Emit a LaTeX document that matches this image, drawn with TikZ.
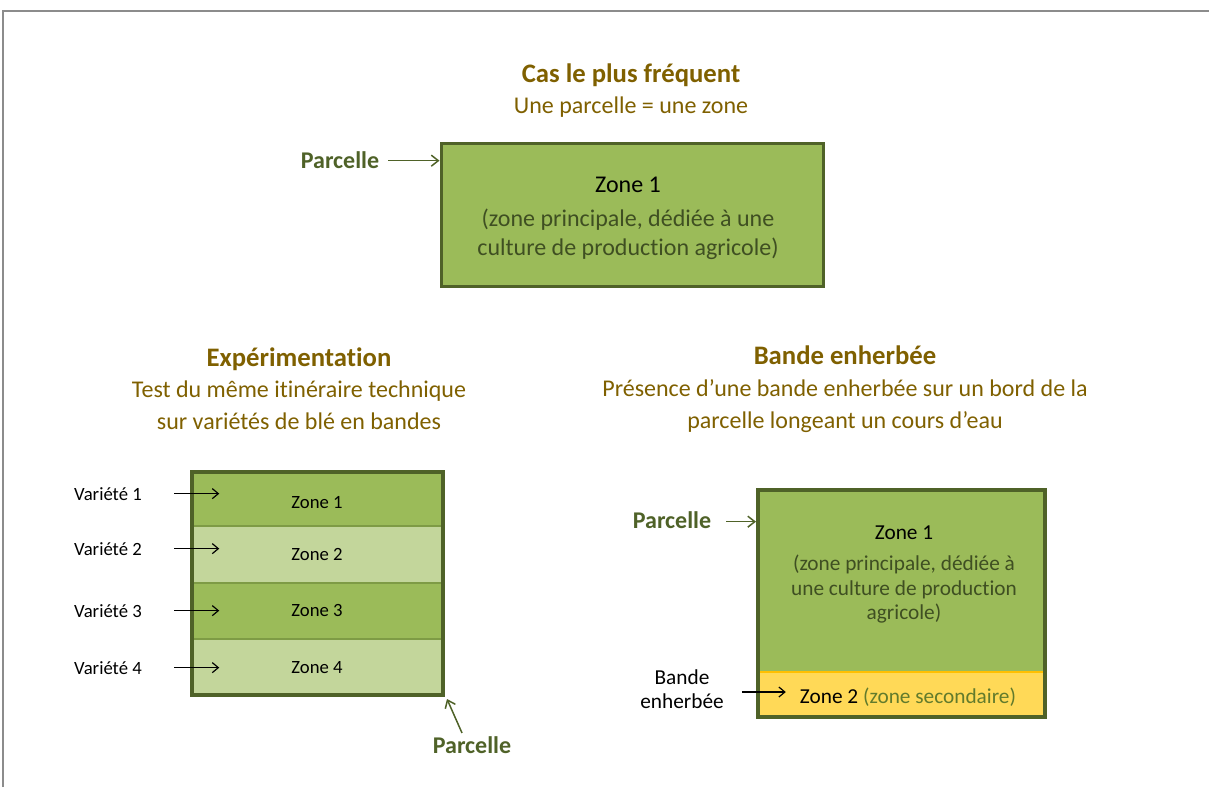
\documentclass[tikz,border=0pt]{standalone}
\usepackage{fontspec}
\setmainfont{Carlito}[Ligatures={NoCommon,NoContextual,NoRare},Contextuals={NoAlternate}]
\usetikzlibrary{arrows.meta,calc}
\newcommand\noligti{t\kern0pt i}
\definecolor{titlebrown}{HTML}{7F6000}
\definecolor{labgreen}{HTML}{4F6228}
\definecolor{fillgreen}{HTML}{9BBB59}
\definecolor{lightgreen}{HTML}{C3D69B}
\definecolor{sepgreen}{HTML}{7E9B45}
\definecolor{olivetext}{HTML}{3F4F22}
\definecolor{secgreen}{HTML}{627B2C}
\definecolor{yellowband}{HTML}{FFD957}
\definecolor{orangeline}{HTML}{FFC000}
\definecolor{framegray}{HTML}{8C8C8C}
\tikzset{
  title/.style={anchor=base,inner sep=0pt,text=titlebrown,font=\fontsize{26.7}{32}\selectfont\bfseries},
  subtitle/.style={anchor=base,inner sep=0pt,text=titlebrown,font=\fontsize{24}{29}\selectfont},
  plabel/.style={anchor=base,inner sep=0pt,text=labgreen,font=\fontsize{24}{29}\selectfont\bfseries},
  small/.style={anchor=base,inner sep=0pt,text=black,font=\fontsize{18.7}{22}\selectfont},
  mid/.style={anchor=base,inner sep=0pt,font=\fontsize{21.3}{25}\selectfont},
  big/.style={anchor=base,inner sep=0pt,font=\fontsize{24}{29}\selectfont},
  band/.style={draw=sepgreen,line width=1.5pt,minimum width=251pt,inner sep=0pt},
  bandtext/.style={anchor=base,inner sep=0pt,text=black,font=\fontsize{18.7}{22}\selectfont},
  garrow/.style={draw=labgreen,line width=1.5pt,-{Straight Barb[length=7pt,width=11pt,line width=1.5pt]}},
  barrow/.style={draw=black,line width=1.2pt,-{Straight Barb[length=6pt,width=10pt,line width=1.2pt]}},
}
\begin{document}
\begin{tikzpicture}[x=1pt,y=-1pt]
\useasboundingbox (0,0) rectangle (1209,787);
% page frame
\draw[framegray,line width=2pt] (3,787) -- (3,11) -- (1209,11);

% ---------- top: cas le plus frequent ----------
\node[title] (t1) at (631,82) {Cas le plus fréquent};
\node[subtitle] (s1) at (631,113) {Une parcelle = une zone};
\node[draw=labgreen,fill=fillgreen,line width=3pt,minimum width=382pt,minimum height=143pt,inner sep=0pt] (box1) at (632,214.5) {};
\node[big] (b1z) at (628,192) {Zone 1};
\node[big,text=olivetext] (b1a) at (628,226) {(zone principale, dédiée à une};
\node[big,text=olivetext] (b1b) at (628,255) {culture de produc\noligti on agricole)};
\node[plabel] (p1) at (340,168) {Parcelle};
\draw[garrow] ($(p1.east)+(9,1)$) -- ($(p1.east -| box1.west)+(0,1)$);

% ---------- left: experimentation ----------
\node[title] (t2) at (299,366) {Expérimenta\noligti on};
\node[subtitle] (s2a) at (299,397) {Test du même i\noligti néraire technique};
\node[subtitle] (s2b) at (299,429) {sur variétés de blé en bandes};

\node[band,fill=fillgreen,minimum height=54pt] (z1) at (317.5,499) {};
\node[band,fill=lightgreen,minimum height=57pt] (z2) at (317.5,554.5) {};
\node[band,fill=fillgreen,minimum height=56pt] (z3) at (317.5,611) {};
\node[band,fill=lightgreen,minimum height=56pt] (z4) at (317.5,667) {};
\node[draw=labgreen,line width=4pt,minimum width=251pt,minimum height=223pt,inner sep=0pt] (exp) at (317.5,583.5) {};
\node[bandtext] (z1t) at (317,508) {Zone 1};
\node[bandtext] (z2t) at (317,560) {Zone 2};
\node[bandtext] (z3t) at (317,616) {Zone 3};
\node[bandtext] (z4t) at (317,673) {Zone 4};

\node[small] (v1) at (108,500) {Variété 1};
\node[small] (v2) at (108,555) {Variété 2};
\node[small] (v3) at (108,617) {Variété 3};
\node[small] (v4) at (108,674) {Variété 4};
\draw[barrow] ($(v1.east)+(32,0)$) -- ($(v1.east -| z1.west)+(28,0)$);
\draw[barrow] ($(v2.east)+(32,0)$) -- ($(v2.east -| z2.west)+(28,0)$);
\draw[barrow] ($(v3.east)+(32,0)$) -- ($(v3.east -| z3.west)+(28,0)$);
\draw[barrow] ($(v4.east)+(32,0)$) -- ($(v4.east -| z4.west)+(28,0)$);

\node[plabel] (p2) at (472,753) {Parcelle};
\draw[garrow] ($(p2.north)+(-10,-3)$) -- ($(exp.south east)+(2,2)$);

% ---------- right: bande enherbee ----------
\node[title] (t3) at (845,364) {Bande enherbée};
\node[subtitle] (s3a) at (845,396) {Présence d’une bande enherbée sur un bord de la};
\node[subtitle] (s3b) at (845,428) {parcelle longeant un cours d’eau};

\node[fill=fillgreen,minimum width=287pt,minimum height=182pt,inner sep=0pt] (r1) at (901.5,581) {};
\node[fill=yellowband,minimum width=287pt,minimum height=45pt,inner sep=0pt] (r2) at (901.5,694.5) {};
\draw[orangeline,line width=2pt] (r2.north west) -- (r2.north east);
\node[draw=labgreen,line width=4pt,minimum width=287pt,minimum height=227pt,inner sep=0pt] (rb) at (901.5,603.5) {};

\node[mid] (r1z) at (904,539) {Zone 1};
\node[mid,text=olivetext] (r1a) at (904,570) {(zone principale, dédiée à};
\node[mid,text=olivetext] (r1b) at (904,595) {une culture de produc\noligti on};
\node[mid,text=olivetext] (r1c) at (904,619) {agricole)};
\node[mid] (r2t) at (908,703) {Zone 2 \textcolor{secgreen}{(zone secondaire)}};

\node[plabel] (p3) at (672,528) {Parcelle};
\draw[garrow] ($(p3.east)+(15,2)$) -- ($(p3.east -| rb.west)+(0,2)$);

\node[mid] (be1) at (682,684) {Bande};
\node[mid] (be2) at (682,708) {enherbée};
\draw[barrow] ($(be2.north east)+(18,-1)$) -- ($(be2.north -| r2.west)+(28,-1)$);
\end{tikzpicture}
\end{document}
